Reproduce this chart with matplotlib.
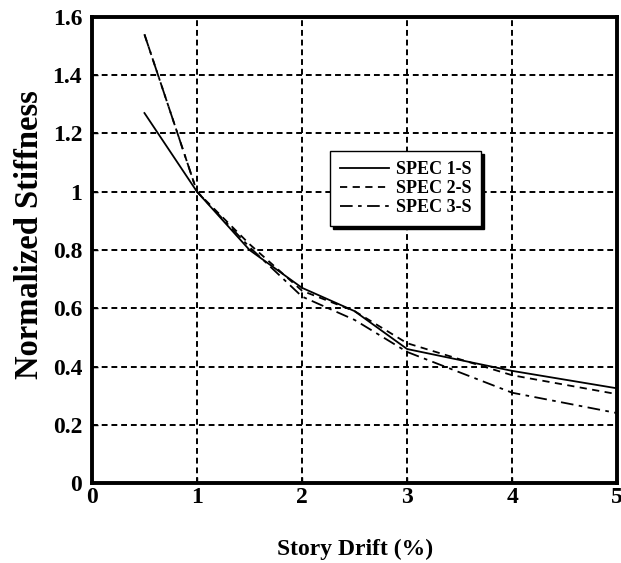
import matplotlib
matplotlib.use('Agg')
import matplotlib.pyplot as plt

plt.rcParams['font.family'] = 'Liberation Serif'
plt.rcParams['font.weight'] = 'bold'

# story drift (%) and normalized stiffness for each specimen
drift = [0.5, 1, 1.5, 2, 2.5, 3, 4, 5]
spec1 = [1.27, 1.0, 0.80, 0.67, 0.59, 0.46, 0.385, 0.325]
spec2 = [1.54, 1.0, 0.82, 0.66, 0.59, 0.48, 0.37, 0.305]
spec3 = [1.54, 1.0, 0.81, 0.64, 0.56, 0.45, 0.31, 0.24]

x_ticks = [0, 1, 2, 3, 4, 5]
y_ticks = [0, 0.2, 0.4, 0.6, 0.8, 1.0, 1.2, 1.4, 1.6]
y_labels = ['0', '0.2', '0.4', '0.6', '0.8', '1', '1.2', '1.4', '1.6']

fig = plt.figure(figsize=(6.21, 5.63), dpi=100)
ax = fig.add_axes([0.148, 0.142, 0.846, 0.828])

ax.plot(drift, spec1, color='black', lw=1.3, ls='-', label='SPEC 1-S')
ax.plot(drift, spec2, color='black', lw=1.3, ls=(0, (4, 3)), label='SPEC 2-S')
ax.plot(drift, spec3, color='black', lw=1.3, ls=(0, (7, 3, 2, 3)), label='SPEC 3-S')

ax.set_xlim(0, 5)
ax.set_ylim(0, 1.6)
ax.set_xticks(x_ticks)
ax.set_yticks(y_ticks)
ax.set_yticklabels(y_labels)
ax.grid(True, color='black', lw=1.4, ls=(0, (3, 2)))
ax.tick_params(direction='in', length=4, width=1, labelsize=17)
ax.tick_params(axis='x', pad=3)
ax.tick_params(axis='y', pad=7)
for s in ax.spines.values():
    s.set_linewidth(2.8)

ax.set_xlabel('Story Drift (%)', fontsize=17, fontweight='bold', labelpad=22)
ax.set_ylabel('Normalized Stiffness', fontsize=23.5, fontweight='bold')
ax.yaxis.set_label_coords(-0.09, 0.532)

leg = ax.legend(loc='upper left', bbox_to_anchor=(0.453, 0.712), borderaxespad=0,
                fontsize=13, frameon=True, fancybox=False, edgecolor='black',
                shadow={'color': 'black', 'alpha': 1}, handlelength=2.7,
                handletextpad=0.4, borderpad=0.55, labelspacing=0.12)
leg.get_frame().set_linewidth(1.0)
for t in leg.get_texts():
    t.set_fontweight('bold')

fig.savefig('out.png', dpi=100)
